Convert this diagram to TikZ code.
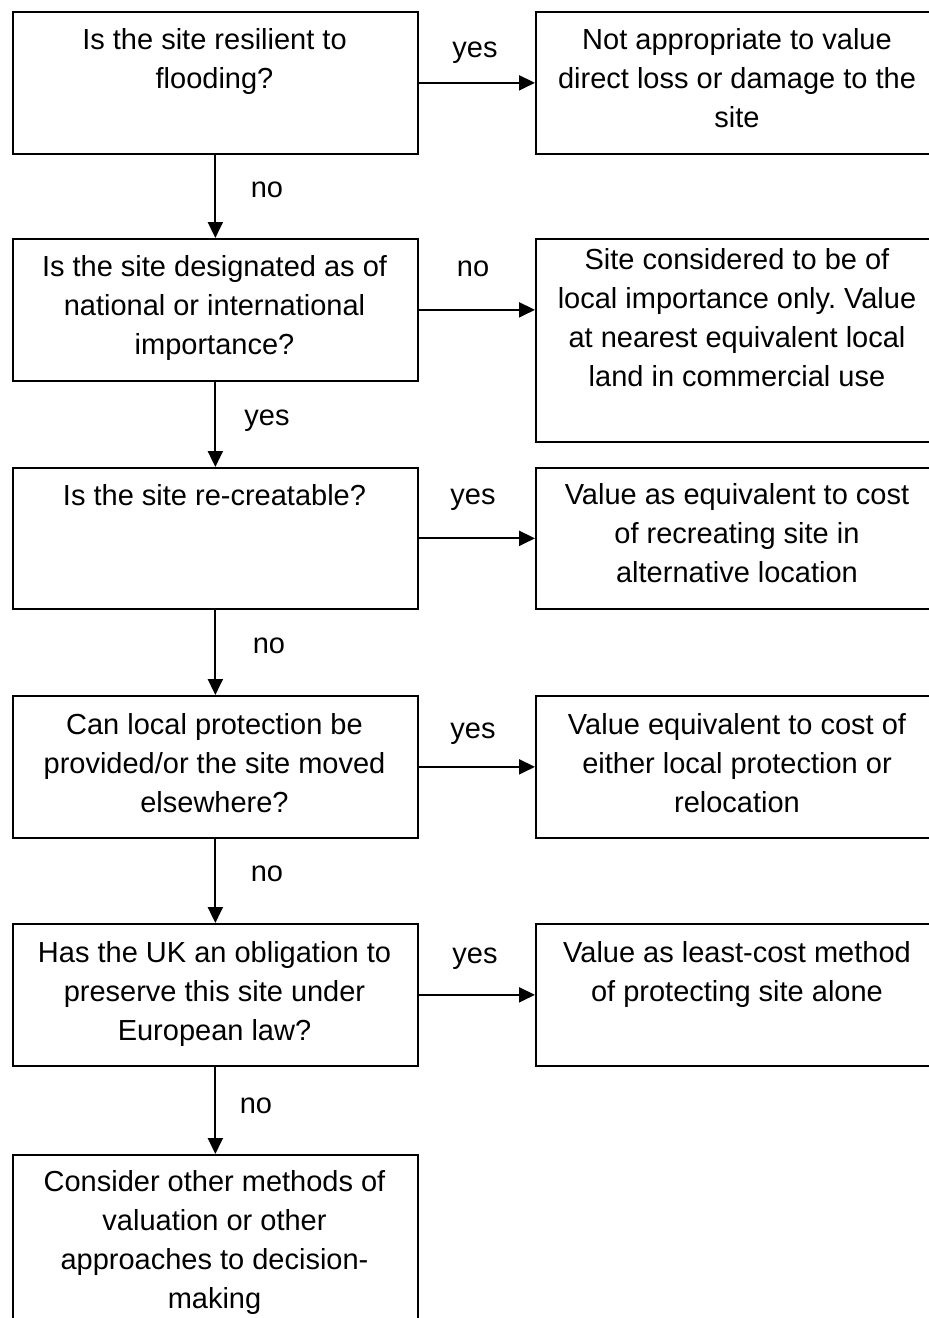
\documentclass[tikz,border=0pt]{standalone}
\usepackage{fontspec}
\setmainfont{Liberation Sans}
\usetikzlibrary{arrows.meta}
\frenchspacing
\begin{document}
\begin{tikzpicture}[x=1pt,y=-1pt,
  box/.style={draw, line width=1.7pt, inner sep=0pt, anchor=north west},
  qbox/.style={box, minimum width=405pt},
  abox/.style={box, minimum width=404pt},
  txt/.style={align=center, inner sep=0pt, font=\fontsize{29}{39}\selectfont, anchor=base},
  lbl/.style={inner sep=0pt, font=\fontsize{29}{39}\selectfont, anchor=base},
  arr/.style={line width=2pt, -{Triangle[length=16pt,width=15pt]}}]
\useasboundingbox (0,0) rectangle (929,1318);
\clip (0,0) rectangle (929,1318);
% question boxes
\node[qbox, minimum height=142pt] (q1) at (12,11) {};
\node[qbox, minimum height=142pt] (q2) at (12,238) {};
\node[qbox, minimum height=141pt] (q3) at (12,467) {};
\node[qbox, minimum height=142pt] (q4) at (12,695) {};
\node[qbox, minimum height=142pt] (q5) at (12,923) {};
\node[qbox, minimum height=200pt] (q6) at (12,1154) {};
% answer boxes
\node[abox, minimum height=142pt] (a1) at (535,11) {};
\node[abox, minimum height=203pt] (a2) at (535,238) {};
\node[abox, minimum height=141pt] (a3) at (535,467) {};
\node[abox, minimum height=142pt] (a4) at (535,695) {};
\node[abox, minimum height=142pt] (a5) at (535,923) {};
% texts (anchor base = baseline of last line)
\node[txt] (tq1) at (214.5,88) {Is the site resilient to\\flooding?};
\node[txt] (tq2) at (214.5,354) {Is the site designated as of\\national or international\\importance?};
\node[txt] (tq3) at (214.5,505) {Is the site re-creatable?};
\node[txt] (tq4) at (214.5,812) {Can local protection be\\provided/or the site moved\\elsewhere?};
\node[txt] (tq5) at (214.5,1040) {Has the UK an obligation to\\preserve this site under\\European law?};
\node[txt] (tq6) at (214.5,1308) {Consider other methods of\\valuation or other\\approaches to decision-\\making};
\node[txt] (ta1) at (737,127) {Not appropriate to value\\direct loss or damage to the\\site};
\node[txt] (ta2) at (737,386) {Site considered to be of\\local importance only. Value\\at nearest equivalent local\\land in commercial use};
\node[txt] (ta3) at (737,582) {Value as equivalent to cost\\of recreating site in\\alternative location};
\node[txt] (ta4) at (737,812) {Value equivalent to cost of\\either local protection or\\relocation};
\node[txt] (ta5) at (737,1001) {Value as least-cost method\\of protecting site alone};
% connectors
\draw[arr] (q1.south) -- (q2.north);
\draw[arr] (q2.south) -- (q3.north);
\draw[arr] (q3.south) -- (q4.north);
\draw[arr] (q4.south) -- (q5.north);
\draw[arr] (q5.south) -- (q6.north);
\draw[arr] (q1.east) -- (q1.east -| a1.west);
\draw[arr] (q2.east) -- (q2.east -| a2.west);
\draw[arr] (q3.east) -- (q3.east -| a3.west);
\draw[arr] (q4.east) -- (q4.east -| a4.west);
\draw[arr] (q5.east) -- (q5.east -| a5.west);
% labels
\node[lbl] (l1) at (475,57) {yes};
\node[lbl] (l2) at (267,197) {no};
\node[lbl] (l3) at (473,276) {no};
\node[lbl] (l4) at (267,425) {yes};
\node[lbl] (l5) at (473,504) {yes};
\node[lbl] (l6) at (269,653) {no};
\node[lbl] (l7) at (473,738) {yes};
\node[lbl] (l8) at (267,881) {no};
\node[lbl] (l9) at (475,963) {yes};
\node[lbl] (l10) at (256,1113) {no};
\end{tikzpicture}
\end{document}
